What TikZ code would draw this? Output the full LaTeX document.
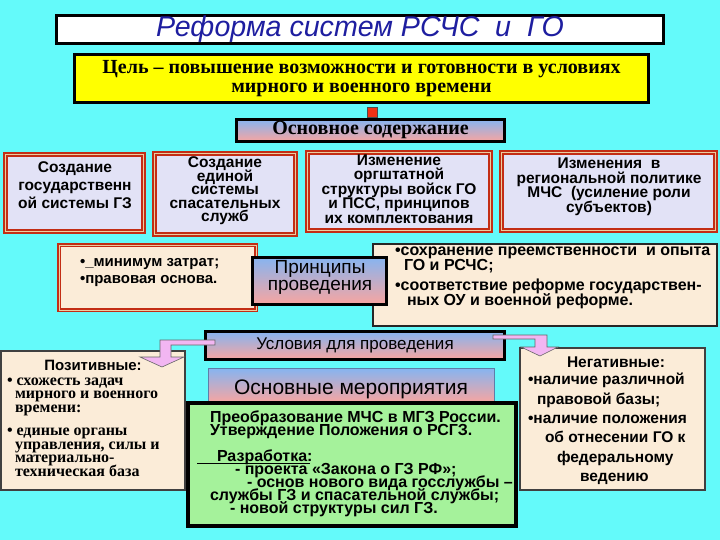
\documentclass[tikz,border=0pt]{standalone}
\usepackage{fontspec}
\setmainfont{Liberation Serif}
\setsansfont{Liberation Sans}
\newcommand{\myfs}[2]{\fontsize{#1}{#2}\selectfont\lineskiplimit=-60pt\lineskip=0pt}
\definecolor{bg}{RGB}{100,250,250}
\definecolor{ttlblue}{RGB}{30,30,160}
\definecolor{ylw}{RGB}{255,255,0}
\definecolor{redb}{RGB}{195,45,20}
\definecolor{sqred}{RGB}{240,50,20}
\definecolor{lav}{RGB}{226,226,246}
\definecolor{gtop}{RGB}{135,180,240}
\definecolor{gbot}{RGB}{248,165,160}
\definecolor{beige}{RGB}{251,236,216}
\definecolor{grn}{RGB}{165,242,155}
\definecolor{pnk}{RGB}{242,182,242}
\definecolor{tanl}{RGB}{235,205,160}
\tikzset{
  bx/.style={anchor=north west, inner sep=0pt, outer sep=0pt},
  blk/.style={bx, draw=black, line width=3pt},
  grd/.style={blk, top color=gtop, bottom color=gbot},
  rbx/.style={bx, draw=redb, line width=2pt, double=tanl, double distance=0.8pt, fill=lav},
  thinbox/.style={bx, draw=black!75, line width=1.2pt, fill=beige},
  txt/.style={inner sep=0pt, outer sep=0pt, execute at begin node={\lineskiplimit=-60pt\lineskip=0pt}},
  boxtxt/.style={txt, align=center, font=\sffamily\bfseries\myfs{15.5}{#1}},
  parrow/.style={fill=pnk, draw=black!60, line width=0.6pt, line join=miter}
}
\begin{document}
\begin{tikzpicture}[x=1pt,y=-1pt]
\useasboundingbox (0,0) rectangle (720,540);
\fill[bg] (0,0) rectangle (720,540);

% title
\node[blk, fill=white, minimum width=607pt, minimum height=28pt,
  font=\sffamily\itshape\myfs{28.6}{28.6}, text=ttlblue] (title) at (56.5,15.5)
  {Реформа систем РСЧС\ \ и\ \ ГО};

% goal
\node[blk, fill=ylw, minimum width=574pt, minimum height=48pt, align=center,
  font=\rmfamily\bfseries\myfs{20}{19}] (goal) at (74.5,54.5)
  {Цель – повышение возможности и готовности в условиях\\мирного и военного времени};

\node[draw=black!70, line width=0.8pt, fill=sqred, minimum size=10pt, inner sep=0pt] (sq) at (372,112.5) {};

% main content
\node[grd, minimum width=268pt, minimum height=22pt, font=\rmfamily\bfseries\myfs{20}{20}] (osn) at (236.5,119.5)
  {Основное содержание};

% four red boxes
\node[rbx, minimum width=138pt, minimum height=77pt] (bA) at (5.5,154.5) {};
\node[boxtxt=18] (tA) at (75,185) {Создание\\государственн\\ой системы ГЗ};
\node[rbx, minimum width=141pt, minimum height=81pt] (bB) at (154.5,153.5) {};
\node[boxtxt=13.5] (tB) at (225,191) {Создание\\единой\\системы\\спасательных\\служб};
\node[rbx, minimum width=183pt, minimum height=78pt] (bC) at (307.5,152.5) {};
\node[boxtxt=14.5] (tC) at (399,189) {Изменение\\оргштатной\\структуры войск ГО\\и ПСС, принципов\\их комплектования};
\node[rbx, minimum width=214pt, minimum height=78pt] (bD) at (501.5,152.5) {};
\node[boxtxt=14.5] (tD) at (609,187) {Изменения\ \ в\\региональной политике\\МЧС\ \ (усиление роли\\субъектов)};

% principles
\node[rbx, fill=beige, minimum width=197pt, minimum height=65pt] (bmin) at (59,245) {};
\node[txt, anchor=west, align=left, font=\sffamily\bfseries\myfs{15}{17}] (tmin) at (80,272.5)
  {•\_минимум затрат;\\•правовая основа.};
\node[bx, draw=black!85, line width=2pt, fill=beige, minimum width=344pt, minimum height=82pt] (bpr) at (373,244) {};
\node[txt, anchor=west, align=left, font=\sffamily\bfseries\myfs{16}{15}] (tpr1) at (395,259.5)
  {•сохранение преемственности\ \ и опыта\\\hspace*{9pt}ГО и РСЧС;};
\node[txt, anchor=west, align=left, font=\sffamily\bfseries\myfs{16}{15}] (tpr2) at (395,294)
  {•соответствие реформе государствен-\\\hspace*{12pt}ных ОУ и военной реформе.};
\node[grd, minimum width=134pt, minimum height=47pt] (bprin) at (252.5,257.5) {};
\node[txt, align=center, font=\sffamily\myfs{19}{17}] (tprin) at (320,277.5) {Принципы\\проведения};

% positive / negative
\node[thinbox, minimum width=184pt, minimum height=139pt] (pos) at (1,351) {};
\node[txt, font=\sffamily\bfseries\myfs{15}{15}] (poshd) at (93,365) {Позитивные:};
\node[txt, anchor=west, align=left, font=\rmfamily\bfseries\myfs{16}{13.5}] (pos1) at (7,396.5)
  {• схожесть задач\\\hspace*{8pt}мирного и военного\\\hspace*{8pt}времени:};
\node[txt, anchor=west, align=left, font=\rmfamily\bfseries\myfs{16}{13.5}] (pos2) at (7,452.5)
  {• единые органы\\\hspace*{8pt}управления, силы и\\\hspace*{8pt}материально-\\\hspace*{8pt}техническая база};

\node[thinbox, minimum width=185pt, minimum height=142pt] (neg) at (520,348) {};
\node[txt, font=\sffamily\bfseries\myfs{15.5}{15.5}] (neghd) at (616,362) {Негативные:};
\node[txt, anchor=west, align=left, font=\sffamily\bfseries\myfs{15.5}{19.3}] (negt) at (528,429)
  {•наличие различной\\\hspace*{9pt}правовой базы;\\•наличие положения\\\hspace*{17pt}об отнесении ГО к\\\hspace*{29pt}федеральному\\\hspace*{52pt}ведению};

% conditions
\node[grd, minimum width=299pt, minimum height=28pt, font=\sffamily\myfs{17}{17}] (usl) at (205.5,331.5)
  {Условия для проведения};

\coordinate (pa) at (215,340);
\coordinate (na) at (493,335);
\draw[parrow] (pa) -- (160,340) -- (160,357) -- (140,357) -- (162,367) -- (184,357) -- (171,357) -- (171,345) -- (215,345) -- cycle;
\draw[parrow] (na) -- (547,335) -- (547,347) -- (558,347) -- (540,356) -- (521,347) -- (535,347) -- (535,339) -- (493,339) -- cycle;

% measures
\node[bx, draw=gtop!70!black, line width=0.8pt, top color=gtop, bottom color=gbot, minimum width=286pt, minimum height=34pt] (mer) at (208.5,368.5) {};
\node[txt, font=\sffamily\myfs{21}{21}] (tmer) at (351,389) {Основные мероприятия};

\node[bx, draw=black, line width=4pt, fill=grn, minimum width=328pt, minimum height=123pt] (gr) at (188,403) {};
\node[txt, anchor=north west, align=left, font=\sffamily\bfseries\myfs{16}{13}] (tgr) at (197,411)
  {\hspace*{13pt}Преобразование МЧС в МГЗ России.\\
   \hspace*{13pt}Утверждение Положения о РСГЗ.\\
   \mbox{}\\
   \rlap{\rule[-2.5pt]{113pt}{0.8pt}}\hspace*{20pt}Разработка:\\
   \hspace*{38pt}- проекта «Закона о ГЗ РФ»;\\
   \hspace*{50pt}- основ нового вида госслужбы –\\
   \hspace*{13pt}службы ГЗ и спасательной службы;\\
   \hspace*{33pt}- новой структуры сил ГЗ.};
\end{tikzpicture}
\end{document}
